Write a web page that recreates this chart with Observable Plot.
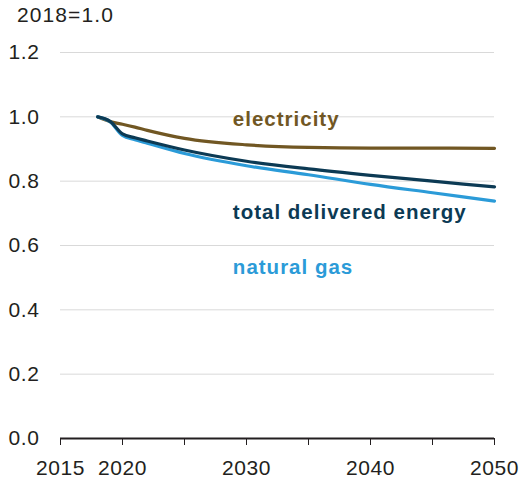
<!DOCTYPE html>
<html><head><meta charset="utf-8">
<script src="https://cdn.jsdelivr.net/npm/d3@7"></script>
<script src="https://cdn.jsdelivr.net/npm/@observablehq/plot@0.6"></script>
<style>
body{margin:0;background:#fff;font-family:"Liberation Sans",Arial,sans-serif;}
#title{height:36px;position:relative;}
#title span{position:absolute;left:17px;top:4px;font-size:21px;line-height:21px;color:#231f20;letter-spacing:1.1px;}
svg text{letter-spacing:0.6px;}
svg g[aria-label="text"] text{letter-spacing:1px;}
</style></head><body>
<div id="title"><span>2018=1.0</span></div>
<div id="chart"></div>
<script>
const years = [2018, 2019, 2020, 2021, 2022, 2025, 2030, 2035, 2040, 2045, 2050];
const electricity = [1.0, 0.985, 0.977, 0.968, 0.958, 0.933, 0.913, 0.905, 0.903, 0.903, 0.902];
const totalDelivered = [1.0, 0.986, 0.947, 0.935, 0.925, 0.897, 0.862, 0.838, 0.818, 0.800, 0.782];
const naturalGas = [1.0, 0.985, 0.942, 0.929, 0.918, 0.886, 0.848, 0.820, 0.790, 0.764, 0.738];
const seriesNames = ["electricity", "natural gas", "total delivered energy"];
const seriesColors = ["#715723", "#2b9bd8", "#0c3a54"];
const labelYears = [2028.9, 2028.9, 2028.9];
const labelValues = [0.992, 0.533, 0.703];
const yTicks = [0, 0.2, 0.4, 0.6, 0.8, 1.0, 1.2];
const xTicks = [2015, 2020, 2025, 2030, 2035, 2040, 2045, 2050];
const xLabelled = [2015, 2020, 2030, 2040, 2050];

const seriesValues = [electricity, naturalGas, totalDelivered];
const rows = [];
seriesNames.forEach((name, i) => {
  years.forEach((yr, j) => rows.push({series: name, year: yr, value: seriesValues[i][j]}));
});
const labels = seriesNames.map((name, i) => ({series: name, year: labelYears[i], value: labelValues[i]}));

const chart = Plot.plot({
  width: 521,
  height: 443,
  marginLeft: 60,
  marginRight: 27,
  marginTop: 16,
  marginBottom: 41,
  style: {fontFamily: '"Liberation Sans", Arial, sans-serif', fontSize: "21px", color: "#231f20", background: "#fff"},
  x: {domain: [2015, 2050]},
  y: {domain: [0, 1.2]},
  color: {domain: seriesNames, range: seriesColors},
  marks: [
    Plot.gridY(yTicks.filter(d => d > 0), {stroke: "#d9d9d9", strokeOpacity: 1, strokeWidth: 1}),
    Plot.axisY({ticks: yTicks, tickFormat: d => d.toFixed(1), tickSize: 0, tickPadding: 21, fontSize: 21, label: null}),
    Plot.axisX({ticks: xTicks, tickFormat: d => xLabelled.includes(d) ? String(d) : "", tickSize: 7, tickPadding: 15, fontSize: 21, label: null, stroke: "#231f20"}),
    Plot.ruleY([0], {stroke: "#231f20", strokeWidth: 2}),
    Plot.line(rows, {x: "year", y: "value", z: "series", stroke: "series", strokeWidth: 3.2, curve: "monotone-x"}),
    Plot.text(labels, {x: "year", y: "value", text: "series", fill: "series", textAnchor: "start", fontWeight: "bold", fontSize: 20.5})
  ]
});
document.getElementById("chart").appendChild(chart);
</script>
</body></html>
